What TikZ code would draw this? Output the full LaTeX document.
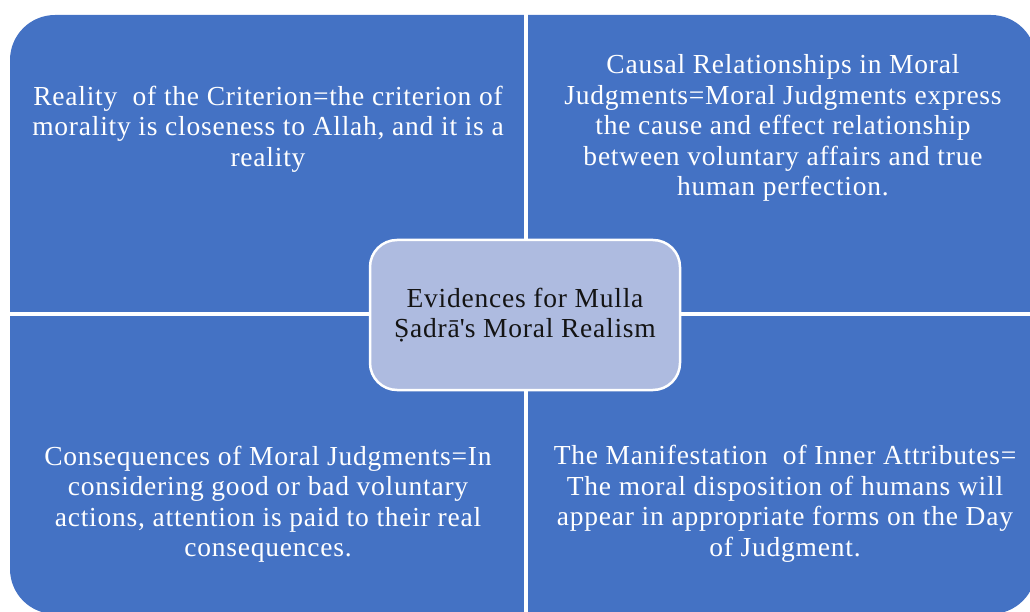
\documentclass[tikz,border=0pt]{standalone}
\usepackage{fontspec}
\setmainfont{Liberation Serif}[LetterSpace=2.8]
\definecolor{qblue}{RGB}{68,114,196}
\definecolor{cfill}{RGB}{174,187,224}
\definecolor{ctext}{RGB}{20,20,20}
\tikzset{
  qtext/.style={text=white, align=center, font=\fontsize{27.5}{30.5}\selectfont, inner sep=0pt},
  ctr/.style={draw=white, line width=2.5pt, fill=cfill, rounded corners=27pt, minimum width=310pt, minimum height=150pt, text=ctext, align=center, font=\fontsize{27.5}{30}\selectfont},
  sep/.style={white, line width=4pt}
}
\begin{document}
\begin{tikzpicture}[x=1pt,y=-1pt]
\useasboundingbox (0,0) rectangle (1030,612);
\clip (0,0) rectangle (1030,612);
\fill[qblue, rounded corners=45pt] (10,15) rectangle (1036,614);
\draw[sep] (526,10) -- (526,620);
\draw[sep] (5,314) -- (1040,314);
\node[qtext] (q1) at (268,129) {Reality\ \ of the Criterion=the criterion of\\morality is closeness to Allah, and it is a\\reality};
\node[qtext] (q2) at (783,128) {Causal Relationships in Moral\\Judgments=Moral Judgments express\\the cause and effect relationship\\between voluntary affairs and true\\human perfection.};
\node[qtext] (q3) at (268,504) {Consequences of Moral Judgments=In\\considering good or bad voluntary\\actions, attention is paid to their real\\consequences.};
\node[qtext] (q4) at (785,504) {The Manifestation\ \ of Inner Attributes=\\The moral disposition of humans will\\appear in appropriate forms on the Day\\of Judgment.};
\node[ctr] (c) at (525,315) {Evidences for Mulla\\Ṣadrā\textquotesingle s Moral Realism};
\end{tikzpicture}
\end{document}
